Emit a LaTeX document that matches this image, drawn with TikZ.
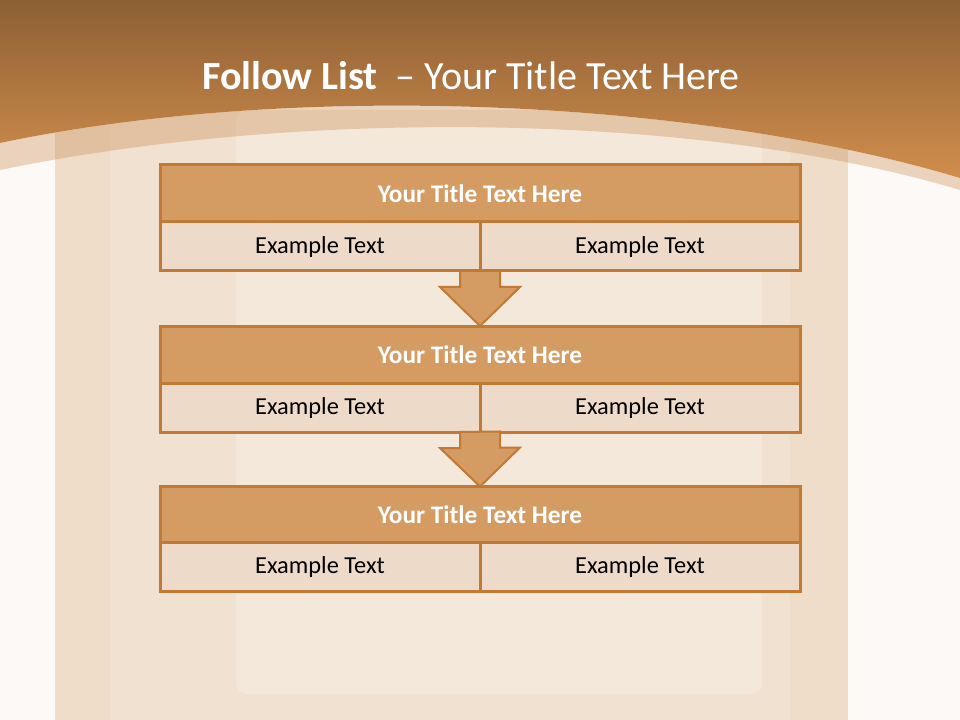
\documentclass[tikz,border=0pt]{standalone}
\usepackage{fontspec}
\setmainfont{Carlito}
\usepackage{tikz}
\usetikzlibrary{arrows.meta,positioning}

\definecolor{pagebg}{HTML}{FCF9F6}
\definecolor{parchA}{HTML}{EFDDCA}
\definecolor{parchB}{HTML}{F1E1D0}
\definecolor{parchC}{HTML}{F4E8DA}
\definecolor{hdrTop}{HTML}{8D5F35}
\definecolor{hdrBot}{HTML}{D18E4C}
\definecolor{bandc}{HTML}{C98B50}
\definecolor{boxline}{HTML}{C07A36}
\definecolor{titlefill}{HTML}{D49B63}
\definecolor{cellfill}{HTML}{EEDAC9}

\begin{document}
\begin{tikzpicture}[x=0.75pt,y=-0.75pt,
  titlebox/.style={draw=boxline,line width=2.25pt,fill=titlefill,minimum width=480pt,minimum height=42.75pt,inner sep=0pt,outer sep=0pt,text=white,font=\fontsize{19}{23}\selectfont\bfseries},
  cellbox/.style={draw=boxline,line width=2.25pt,fill=cellfill,minimum width=240pt,minimum height=36.75pt,inner sep=0pt,outer sep=0pt,text=black,font=\fontsize{18.3}{22}\selectfont},
  blockarrow/.style={draw=boxline,line width=1.5pt,fill=titlefill,line join=miter}]
\useasboundingbox (0,0) rectangle (960,720);
% page and parchment
\fill[pagebg] (0,0) rectangle (960,720);
\fill[parchA] (55,110) rectangle (848,720);
\fill[parchB] (110,110) rectangle (790,720);
\fill[parchC,rounded corners=8pt] (236,110) rectangle (762,694);
% header
\shade[top color=hdrTop,bottom color=hdrBot] (0,0) -- (960,0) -- (960,178)
  .. controls (700,100) and (300,80) .. (0,143) -- cycle;
\fill[bandc,opacity=0.35] (0,143) .. controls (300,80) and (700,100) .. (960,178)
  -- (960,190) .. controls (700,112) and (300,108) .. (0,170) -- cycle;
\node[text=white,font=\fontsize{30}{36}\selectfont] (head) at (471,76) {\textbf{Follow List}\ \ -- Your Title Text Here};

% blocks
\node[titlebox] (t1) at (480,193.5) {Your Title Text Here};
\node[cellbox] (c1a) at (320,246.5) {Example Text};
\node[cellbox] (c1b) at (640,246.5) {Example Text};
\node[titlebox] (t2) at (480,354.5) {Your Title Text Here};
\node[cellbox] (c2a) at (320,407.5) {Example Text};
\node[cellbox] (c2b) at (640,407.5) {Example Text};
\node[titlebox] (t3) at (480,515) {Your Title Text Here};
\node[cellbox] (c3a) at (320,567) {Example Text};
\node[cellbox] (c3b) at (640,567) {Example Text};

% arrows between blocks
\draw[blockarrow] ([xshift=-15pt]c1a.south east) -- ++(0,16) -- ++(-20,0) -- (t2.north)
  -- ++(40,-39) -- ++(-20,0) -- ++(0,-16) -- cycle;
\draw[blockarrow] ([xshift=-15pt]c2a.south east) -- ++(0,16) -- ++(-20,0) -- (t3.north)
  -- ++(40,-39) -- ++(-20,0) -- ++(0,-16) -- cycle;
\end{tikzpicture}
\end{document}
